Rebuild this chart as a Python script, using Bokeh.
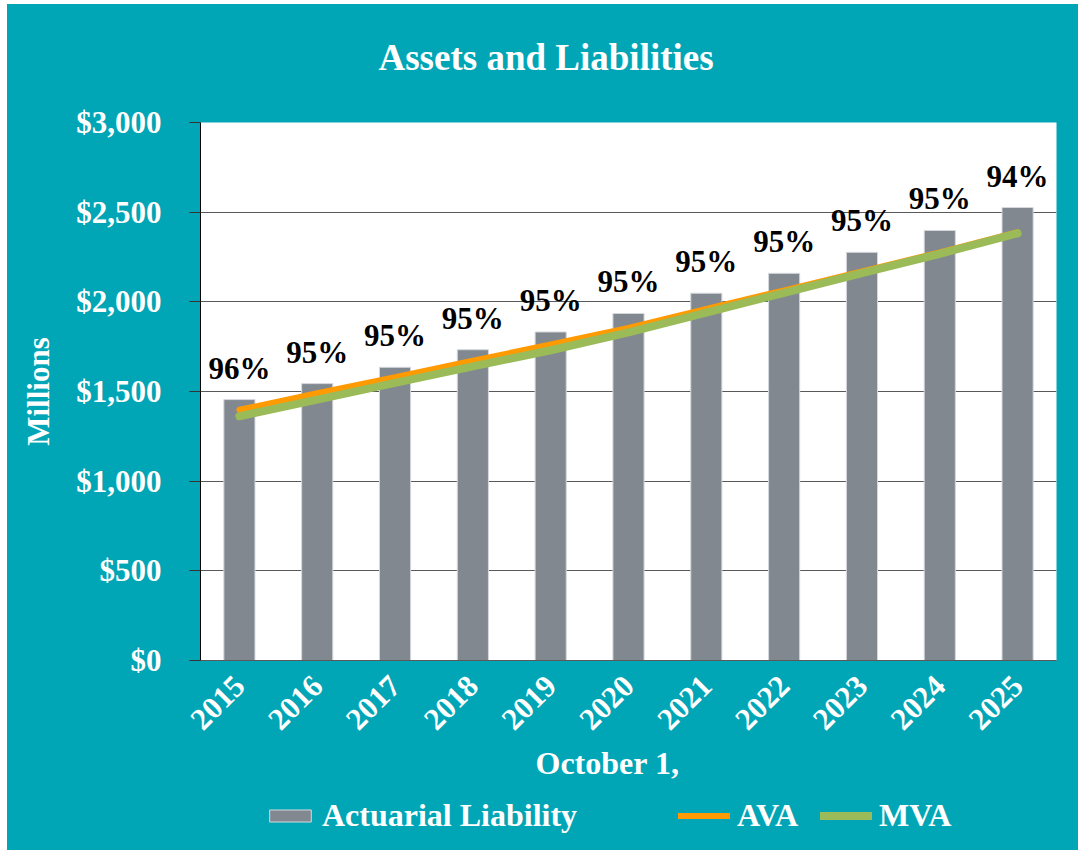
import math
from bokeh.plotting import figure
from bokeh.layouts import column
from bokeh.models import (ColumnDataSource, FactorRange, Range1d, FixedTicker,
                          NumeralTickFormatter, LabelSet, Legend, LegendItem, Title)
from bokeh.embed import file_html
from bokeh.resources import INLINE

years = ["2015", "2016", "2017", "2018", "2019", "2020",
         "2021", "2022", "2023", "2024", "2025"]
liability = [1455, 1544, 1635, 1733, 1832, 1935, 2048, 2159, 2276, 2398, 2526]
ava = [1398, 1490, 1580, 1672, 1762, 1855, 1960, 2064, 2170, 2276, 2388]
mva = [1362, 1455, 1548, 1640, 1730, 1830, 1940, 2050, 2160, 2268, 2382]
funded_pct = ["96%", "95%", "95%", "95%", "95%", "95%", "95%", "95%", "95%", "95%", "94%"]
y_ticks = [0, 500, 1000, 1500, 2000, 2500, 3000]

TEAL = "#01A6B6"
FONT = "Liberation Serif"
BAR = dict(fill_color="#818890", line_color="#D5D8DC", line_width=1)
AVA_STYLE = dict(line_color="#FF9A00", line_width=6, line_cap="round")
MVA_STYLE = dict(line_color="#9BBB59", line_width=8, line_cap="round")

src = ColumnDataSource(dict(year=years, liab=liability, ava=ava, mva=mva, pct=funded_pct))

# ---------------- main chart ----------------
p = figure(width=1071, height=782, x_range=FactorRange(*years, range_padding=0),
           y_range=Range1d(0, 3000), output_backend="svg", toolbar_location=None,
           tools="")
p.min_border_left = 193
p.min_border_right = 22
p.min_border_top = 118
p.min_border_bottom = 126
p.background_fill_color = "white"
p.border_fill_color = TEAL
p.outline_line_color = None

p.title.text = "Assets and Liabilities"
p.title.align = "left"
p.title.offset = 178
p.title.standoff = 0
p.title.text_font = FONT
p.title.text_font_style = "bold"
p.title.text_font_size = "37px"
p.title.text_color = "white"
# spacer between title and plot area
p.add_layout(Title(text=" ", text_font_size="1px", standoff=42), "above")

p.vbar(x="year", top="liab", width=0.4, source=src, **BAR)
p.line(x="year", y="ava", source=src, **AVA_STYLE)
p.line(x="year", y="mva", source=src, **MVA_STYLE)

labels = LabelSet(x="year", y="liab", text="pct", source=src, y_offset=21,
                  text_align="center", text_baseline="alphabetic",
                  text_font=FONT, text_font_style="bold", text_font_size="31px",
                  text_color="black")
p.add_layout(labels)

p.xgrid.grid_line_color = None
p.ygrid.grid_line_color = "#595959"
p.ygrid.ticker = FixedTicker(ticks=y_ticks)

ya = p.yaxis[0]
ya.ticker = FixedTicker(ticks=y_ticks)
ya.formatter = NumeralTickFormatter(format="$0,0")
ya.axis_line_color = "black"
ya.major_tick_out = 11
ya.major_tick_in = 0
ya.major_tick_line_color = "#333333"
ya.minor_tick_line_color = None
ya.major_label_standoff = 28
ya.major_label_text_font = FONT
ya.major_label_text_font_style = "bold"
ya.major_label_text_font_size = "31px"
ya.major_label_text_color = "white"
ya.axis_label = "Millions"
ya.axis_label_standoff = 17
ya.axis_label_text_font = FONT
ya.axis_label_text_font_style = "bold"
ya.axis_label_text_font_size = "31px"
ya.axis_label_text_color = "white"

xa = p.xaxis[0]
xa.axis_line_color = "#595959"
xa.major_tick_out = 0
xa.major_tick_in = 0
xa.major_label_orientation = math.pi / 4
xa.major_label_standoff = 20
xa.major_label_text_font = FONT
xa.major_label_text_font_style = "bold"
xa.major_label_text_font_size = "31px"
xa.major_label_text_color = "white"

# x-axis title, placed left of centre like the original
p.add_layout(Title(text="October 1,", align="left", offset=335, standoff=0,
                   text_font=FONT, text_font_style="bold", text_font_size="32px",
                   text_color="white"), "below")

# ---------------- legend strip ----------------
# same series with a y range above all values: only the legend swatches show
lg = figure(width=1071, height=64, x_range=FactorRange(*years, range_padding=0),
            y_range=Range1d(3000, 6000), output_backend="svg", toolbar_location=None,
            tools="", x_axis_location=None, y_axis_location=None)
lg.min_border = 0
lg.background_fill_alpha = 0
lg.border_fill_color = TEAL
lg.outline_line_color = None
lg.grid.visible = False

r_bar = lg.vbar(x="year", top="liab", width=0.4, source=src, **BAR)
r_ava = lg.line(x="year", y="ava", source=src, **AVA_STYLE)
r_mva = lg.line(x="year", y="mva", source=src, **MVA_STYLE)

def make_legend(items, loc, standoff, spacing):
    return Legend(items=items, location=loc, orientation="horizontal",
                  glyph_width=52, glyph_height=15, label_standoff=standoff,
                  spacing=spacing, padding=0, margin=0,
                  background_fill_alpha=0, border_line_color=None,
                  label_text_font=FONT, label_text_font_style="bold",
                  label_text_font_size="32px", label_text_color="white",
                  label_text_baseline="middle")

lg.add_layout(make_legend([LegendItem(label="Actuarial Liability", renderers=[r_bar])],
                          (64, 16), 6, 0))
lg.add_layout(make_legend([LegendItem(label="AVA", renderers=[r_ava]),
                           LegendItem(label="MVA", renderers=[r_mva])],
                          (478, 16), 7, 22))

page = column(p, lg, spacing=0, margin=(4, 0, 0, 7),
              styles={"background-color": TEAL})
open("out.html", "w").write(file_html(page, INLINE))
